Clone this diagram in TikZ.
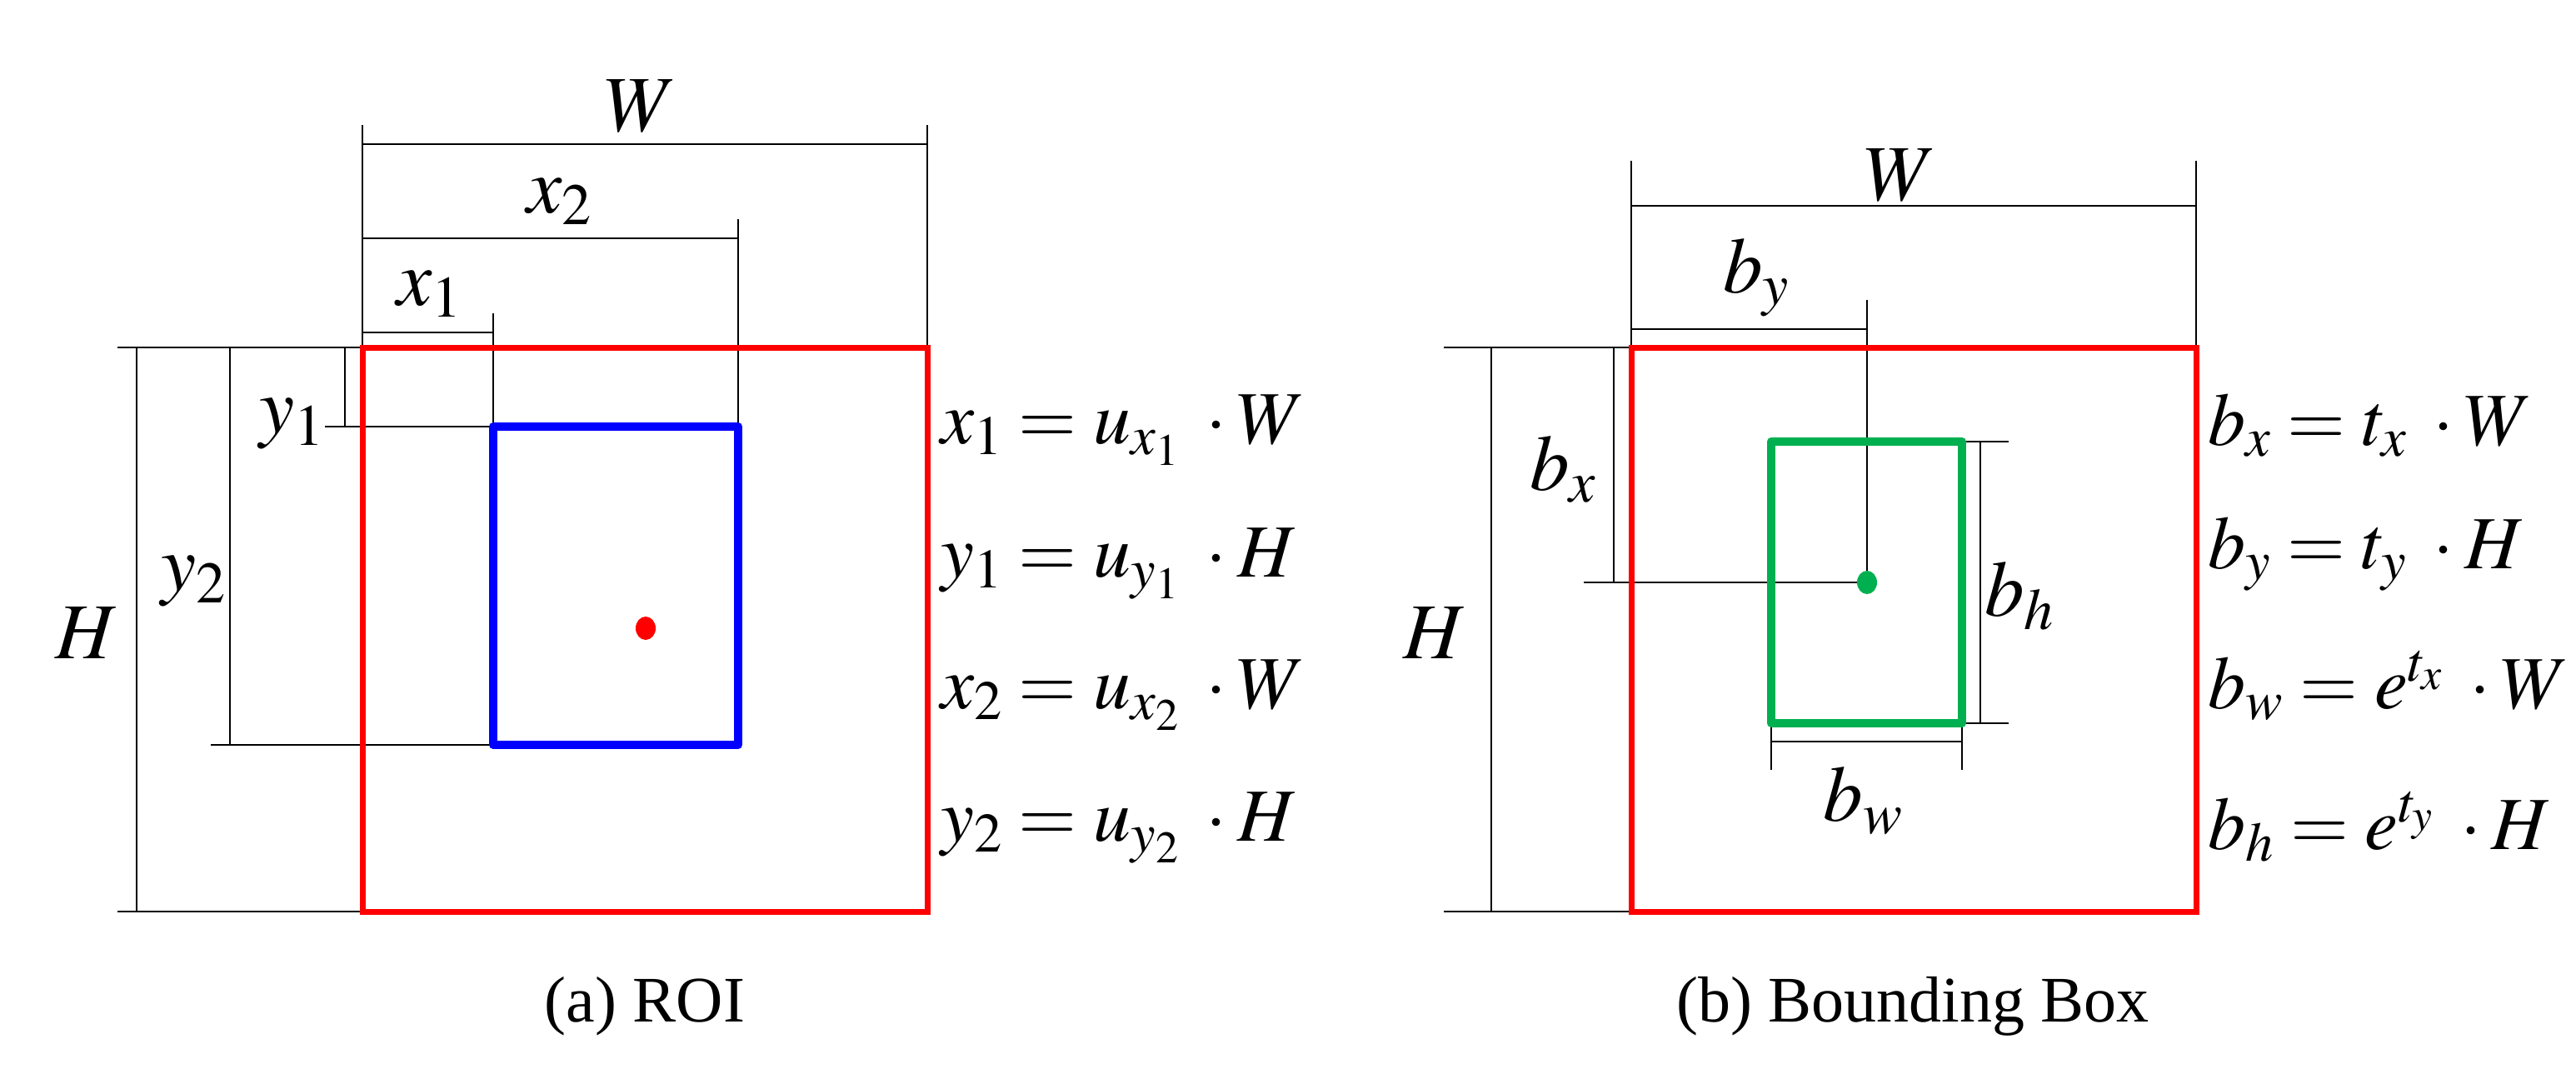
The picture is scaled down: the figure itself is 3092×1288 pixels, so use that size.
\documentclass[tikz,border=0pt]{standalone}
\usepackage{mathptmx}
\usepackage{fontspec}
\setmainfont{Liberation Serif}
\definecolor{bbgreen}{RGB}{0,176,80}
\begin{document}
\begin{tikzpicture}[x=1pt,y=-1pt,
  dim/.style={line width=2pt,black},
  lbl/.style={font=\fontsize{95}{100}\selectfont,inner sep=0pt},
  eq/.style={font=\fontsize{90}{100}\selectfont,inner sep=0pt,anchor=base west},
  captxt/.style={font=\fontsize{78}{90}\selectfont,inner sep=0pt}]
\useasboundingbox (0,0) rectangle (3092,1288);
% ---------- (a) ROI ----------
\coordinate (a1) at (435,417); \coordinate (a2) at (1113,1094);
\coordinate (b1) at (592,512); \coordinate (b2) at (886,894);
\draw[dim] (435,150) -- (435,417) (1113,150) -- (1113,417);
\draw[dim] (435,173) -- (1113,173);
\draw[dim] (435,286) -- (886,286) (886,263) -- (886,512);
\draw[dim] (435,399) -- (592,399) (592,376) -- (592,512);
\draw[dim] (141,417) -- (435,417) (141,1094) -- (435,1094) (164,417) -- (164,1094);
\draw[dim] (276,417) -- (276,894) (253,894) -- (592,894);
\draw[dim] (414,417) -- (414,512) (390,512) -- (592,512);
\draw[red,line width=7pt] (a1) rectangle (a2);
\draw[blue,line width=10pt,line join=round] (b1) rectangle (b2);
\fill[red] (775,754) ellipse (12 and 14);
\node[lbl] (W1) at (769,127) {$W$};
\node[lbl] (X2) at (671,242) {$x_2$};
\node[lbl] (X1) at (515,353) {$x_1$};
\node[lbl] (Y1) at (350,509) {$y_1$};
\node[lbl] (Y2) at (232,698) {$y_2$};
\node[lbl] (H1) at (104,760) {$H$};
\node[eq] (e1) at (1129,532) {$x_1 = u_{x_1}\;\cdot W$};
\node[eq] (e2) at (1129,692) {$y_1 = u_{y_1}\;\cdot H$};
\node[eq] (e3) at (1129,850) {$x_2 = u_{x_2}\;\cdot W$};
\node[eq] (e4) at (1129,1009) {$y_2 = u_{y_2}\;\cdot H$};
\node[captxt] (ca) at (774,1208) {(a) ROI};
% ---------- (b) Bounding Box ----------
\coordinate (c1) at (1958,417); \coordinate (c2) at (2636,1094);
\coordinate (g1) at (2126,530); \coordinate (g2) at (2355,868);
\coordinate (gc) at (2241,699);
\draw[dim] (1958,193) -- (1958,417) (2636,193) -- (2636,417) (1958,247) -- (2636,247);
\draw[dim] (1958,395) -- (2241,395) (2241,360) -- (gc);
\draw[dim] (1937,417) -- (1937,699) (1901,699) -- (gc);
\draw[dim] (1733,417) -- (1958,417) (1733,1094) -- (1958,1094) (1790,417) -- (1790,1094);
\draw[dim] (2355,530) -- (2411,530) (2355,868) -- (2411,868) (2377,530) -- (2377,868);
\draw[dim] (2126,868) -- (2126,924) (2355,868) -- (2355,924) (2126,890) -- (2355,890);
\draw[red,line width=7pt] (c1) rectangle (c2);
\draw[bbgreen,line width=10pt,line join=round] (g1) rectangle (g2);
\fill[bbgreen] (gc) ellipse (12 and 14);
\node[lbl] (W2) at (2281,210) {$W$};
\node[lbl] (BY) at (2108,333) {$b_y$};
\node[lbl] (BX) at (1876,563) {$b_x$};
\node[lbl] (H2) at (1722,760) {$H$};
\node[lbl] (BH) at (2424,715) {$b_h$};
\node[lbl] (BW) at (2236,961) {$b_w$};
\node[eq] (f1) at (2650,534) {$b_x = t_x\;\cdot W$};
\node[eq] (f2) at (2650,682) {$b_y = t_y\;\cdot H$};
\node[eq] (f3) at (2650,850) {$b_w = e^{t_x}\;\cdot W$};
\node[eq] (f4) at (2650,1019) {$b_h = e^{t_y}\;\cdot H$};
\node[captxt] (cb) at (2296,1208) {(b) Bounding Box};
\end{tikzpicture}
\end{document}
